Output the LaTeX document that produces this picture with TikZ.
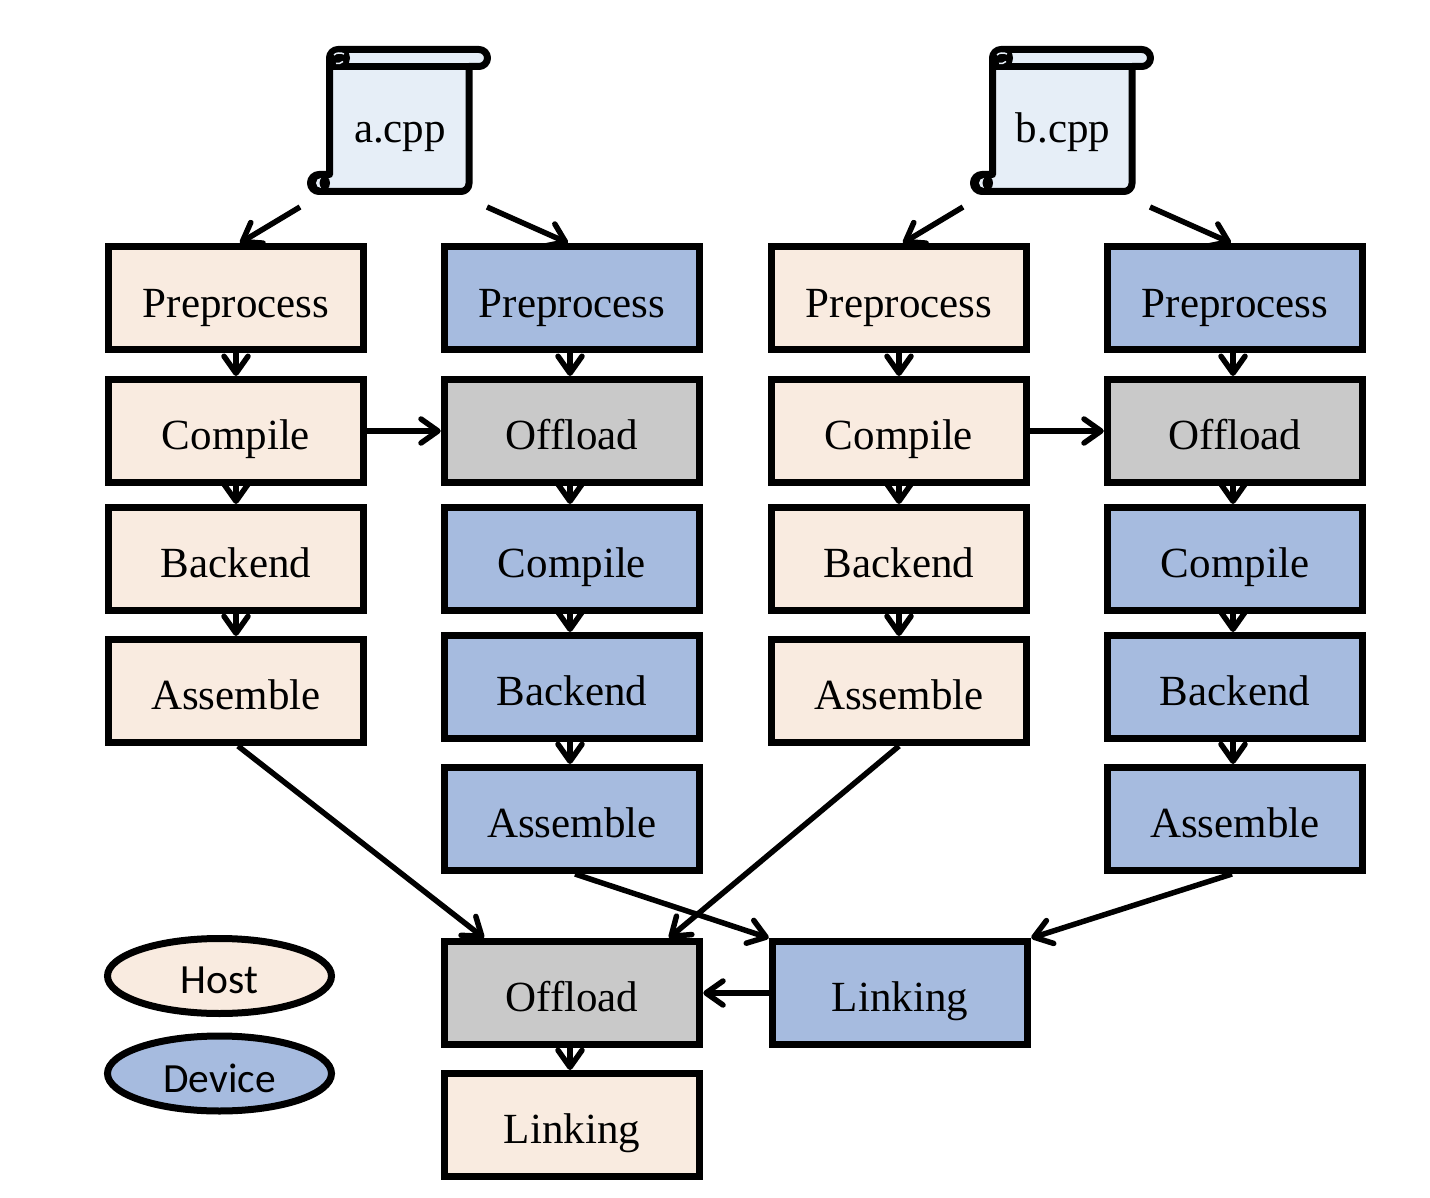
\documentclass[tikz,border=0pt]{standalone}
\usepackage{fontspec}
\setmainfont{Liberation Serif}
\newfontfamily\legendfont{Carlito}
\usepackage{xcolor}
\usetikzlibrary{arrows.meta,shapes.geometric}
\definecolor{hostfill}{HTML}{F9EBE0}
\definecolor{devfill}{HTML}{A6BBDF}
\definecolor{offfill}{HTML}{C9C9C9}
\definecolor{filefill}{HTML}{E6EEF7}
\tikzset{
  stage/.style={draw,line width=7pt,minimum width=255.5pt,minimum height=103pt,inner sep=0pt,
    text height=36pt,text depth=0pt,font=\fontsize{43}{50}\selectfont},
  host/.style={stage,fill=hostfill},
  dev/.style={stage,fill=devfill},
  off/.style={stage,fill=offfill},
  legend/.style={draw,ellipse,line width=7pt,minimum width=224pt,minimum height=75pt,inner sep=0pt,
    text depth=0pt,font=\legendfont\fontsize{41.5}{50}\selectfont},
  flow/.style={-{Straight Barb[length=17pt,width=24pt,round]},line width=5.5pt},
  scrollline/.style={line width=7pt,line join=round}
}
\begin{document}
\begin{tikzpicture}[x=1pt,y=-1pt]
  \useasboundingbox (0,0) rectangle (1430,1198);
  \foreach \s/\dx/\name in {a/0/a.cpp,b/663/b.cpp}{
    \begin{scope}[xshift=\dx]
      % source file scroll (y axis is flipped, so angles run clockwise)
      \draw [scrollline,fill=filefill] (329.5,58) arc (180:270:8.5) -- (479,49.5) arc (270:450:8.5)
        -- (469,66.5) -- (469,183.5) arc (0:90:8) -- (319,191.5) arc (90:270:8.5)
        -- (329.5,174.5) -- cycle;
      \draw [scrollline] (329.5,66.5) -- (469,66.5);
      \fill (339,58) circle (11);
      \draw [filefill,line width=1.5pt] (334,55) .. controls (336,52.5) and (341,52.5) .. (344,54);
      \draw [filefill,line width=1.5pt] (336,63.5) .. controls (338,64) and (341,63.5) .. (343,61.5);
      \fill (321,183) circle (9);
      \fill [filefill] (321,178) arc (270:90:5) .. controls (319,185) and (319,181) .. (321,178);
      \node (\s file) at (400,143) [anchor=base,inner sep=0pt,font=\fontsize{43}{50}\selectfont] {\name};
      \coordinate (\s left) at (300,207);
      \coordinate (\s right) at (487,207);
      % host column
      \node (\s hpre) [host,text height=38.5pt] at (236,298) {Preprocess};
      \node (\s hcom) [host] at (236,431) {Compile};
      \node (\s hbak) [host] at (236,559) {Backend};
      \node (\s hasm) [host] at (236,691) {Assemble};
      % device column
      \node (\s dpre) [dev,text height=38.5pt] at (572,298) {Preprocess};
      \node (\s doff) [off] at (572,431) {Offload};
      \node (\s dcom) [dev] at (572,559) {Compile};
      \node (\s dbak) [dev] at (572,687) {Backend};
      \node (\s dasm) [dev] at (572,819) {Assemble};
    \end{scope}
    \draw [flow] (\s left) -- ([xshift=4]\s hpre.north);
    \draw [flow] (\s right) -- ([xshift=-4]\s dpre.north);
    \draw [flow] (\s hpre) -- (\s hcom);
    \draw [flow] (\s hcom) -- (\s hbak);
    \draw [flow] (\s hbak) -- (\s hasm);
    \draw [flow] (\s hcom) -- (\s doff);
    \draw [flow] ([xshift=-2]\s dpre.south) -- ([xshift=-2]\s doff.north);
    \draw [flow] ([xshift=-2]\s doff.south) -- ([xshift=-2]\s dcom.north);
    \draw [flow] ([xshift=-2]\s dcom.south) -- ([xshift=-2]\s dbak.north);
    \draw [flow] ([xshift=-2]\s dbak.south) -- ([xshift=-2]\s dasm.north);
  }
  % link step
  \node (loff) [off] at (572,993) {Offload};
  \node (llnk) [host] at (572,1125) {Linking};
  \node (dlnk) [dev] at (900,993) {Linking};
  \draw [flow] ([xshift=2]ahasm.south) -- ([xshift=-88]loff.north);
  \draw [flow] (bhasm.south) -- ([xshift=97]loff.north);
  \draw [flow] ([xshift=3]adasm.south) -- (dlnk.north west);
  \draw [flow] ([xshift=-3]bdasm.south) -- (dlnk.north east);
  \draw [flow] (dlnk) -- (loff);
  \draw [flow] ([xshift=-2]loff.south) -- ([xshift=-2]llnk.north);
  % legend
  \node (lhost) [legend,fill=hostfill,text height=34pt] at (219.5,976) {Host};
  \node (ldev) [legend,fill=devfill,text height=38pt] at (219.5,1073.5) {Device};
\end{tikzpicture}
\end{document}
